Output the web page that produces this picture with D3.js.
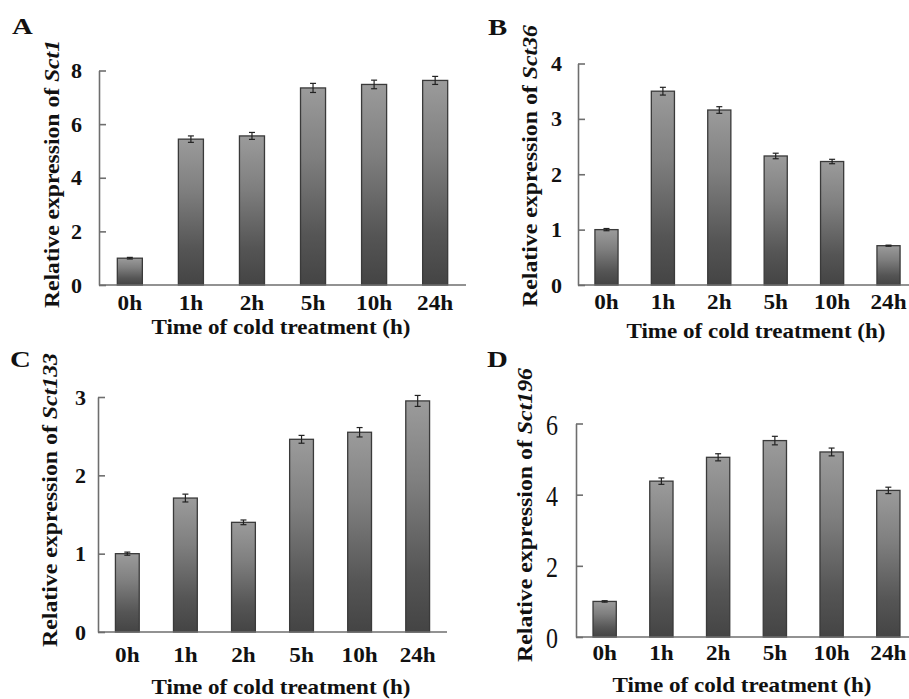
<!DOCTYPE html>
<html>
<head>
<meta charset="utf-8">
<script src="https://cdn.jsdelivr.net/npm/d3@7"></script>
<style>
  html, body { margin: 0; padding: 0; background: #fff; }
  svg { display: block; }
  text { font-family: "Liberation Serif", "Times New Roman", serif; font-weight: bold; fill: #111; }
</style>
</head>
<body>
<svg id="chart" width="909" height="699"></svg>
<script>
// ---------- data ----------
const categories = ["0h", "1h", "2h", "5h", "10h", "24h"];

const sct1Values = [1.00, 5.44, 5.56, 7.35, 7.48, 7.63];
const sct1Errors = [0.03, 0.12, 0.13, 0.17, 0.16, 0.15];

const sct36Values = [1.00, 3.50, 3.16, 2.33, 2.23, 0.71];
const sct36Errors = [0.02, 0.07, 0.06, 0.05, 0.04, 0.01];

const sct133Values = [1.00, 1.71, 1.40, 2.46, 2.55, 2.95];
const sct133Errors = [0.02, 0.05, 0.03, 0.05, 0.06, 0.07];

const sct196Values = [1.00, 4.38, 5.05, 5.52, 5.20, 4.12];
const sct196Errors = [0.02, 0.09, 0.10, 0.12, 0.11, 0.09];

const ticksA = [0, 2, 4, 6, 8];
const ticksB = [0, 1, 2, 3, 4];
const ticksC = [0, 1, 2, 3];
const ticksD = [0, 2, 4, 6];

const panelLetters = ["A", "B", "C", "D"];
const geneNames = ["Sct1", "Sct36", "Sct133", "Sct196"];
const xTitle = "Time of cold treatment (h)";
const yTitlePrefix = "Relative expression of ";

// ---------- drawing ----------
const svg = d3.select("#chart");
const defs = svg.append("defs");
const grad = defs.append("linearGradient")
  .attr("id", "barGrad").attr("x1", 0).attr("y1", 0).attr("x2", 0).attr("y2", 1);
grad.append("stop").attr("offset", "0%").attr("stop-color", "#9b9b9b");
grad.append("stop").attr("offset", "35%").attr("stop-color", "#7f7f7f");
grad.append("stop").attr("offset", "75%").attr("stop-color", "#555555");
grad.append("stop").attr("offset", "100%").attr("stop-color", "#444444");

const panels = [
  { letter: panelLetters[0], gene: geneNames[0], values: sct1Values, errors: sct1Errors, ticks: ticksA,
    x0: 99, x1: 466, yBottom: 285, yTop: 70.5, letterPos: [12, 34],
    tickPad: 17, xPad: 11, yTitleX: 52, yTitleY: 174, yTitleLen: 268,
    xTitleX: 281, xTitleY: 334, condensed: false },
  { letter: panelLetters[1], gene: geneNames[1], values: sct36Values, errors: sct36Errors, ticks: ticksB,
    x0: 578, x1: 917, yBottom: 285, yTop: 63.5, letterPos: [488, 35],
    tickPad: 16, xPad: 10, yTitleX: 530, yTitleY: 166, yTitleLen: 282,
    xTitleX: 756, xTitleY: 338, condensed: false },
  { letter: panelLetters[2], gene: geneNames[2], values: sct133Values, errors: sct133Errors, ticks: ticksC,
    x0: 98, x1: 447, yBottom: 632, yTop: 397, letterPos: [10, 367],
    tickPad: 12, xPad: 16, yTitleX: 50, yTitleY: 500, yTitleLen: 294,
    xTitleX: 281, xTitleY: 694, condensed: false },
  { letter: panelLetters[3], gene: geneNames[3], values: sct196Values, errors: sct196Errors, ticks: ticksD,
    x0: 576, x1: 917, yBottom: 637, yTop: 423.5, letterPos: [487, 367],
    tickPad: 18, xPad: 9, yTitleX: 525, yTitleY: 515, yTitleLen: 294,
    xTitleX: 742, xTitleY: 692, condensed: true }
];

const axisColor = "#6e6e6e";
const xTitleLen = 259;

panels.forEach(p => {
  const g = svg.append("g");
  const maxTick = p.ticks[p.ticks.length - 1];

  const x = d3.scaleBand().domain(categories).range([p.x0, p.x1])
    .paddingInner(0.59).paddingOuter(0.3);
  const y = d3.scaleLinear().domain([0, maxTick]).range([p.yBottom, p.yTop]);

  // bars
  g.selectAll("rect.bar").data(p.values).join("rect")
    .attr("class", "bar")
    .attr("x", (d, i) => x(categories[i]))
    .attr("width", x.bandwidth())
    .attr("y", d => y(d))
    .attr("height", d => y(0) - y(d))
    .attr("fill", "url(#barGrad)")
    .attr("stroke", "#3a3a3a")
    .attr("stroke-width", 1.3);

  // error bars
  const eb = g.selectAll("g.err").data(p.values).join("g").attr("class", "err");
  eb.append("line")
    .attr("x1", (d, i) => x(categories[i]) + x.bandwidth() / 2)
    .attr("x2", (d, i) => x(categories[i]) + x.bandwidth() / 2)
    .attr("y1", (d, i) => y(d + p.errors[i]))
    .attr("y2", (d, i) => y(d - p.errors[i]))
    .attr("stroke", "#222").attr("stroke-width", 1.2);
  [1, -1].forEach(s => {
    eb.append("line")
      .attr("x1", (d, i) => x(categories[i]) + x.bandwidth() / 2 - 3)
      .attr("x2", (d, i) => x(categories[i]) + x.bandwidth() / 2 + 3)
      .attr("y1", (d, i) => y(d + s * p.errors[i]))
      .attr("y2", (d, i) => y(d + s * p.errors[i]))
      .attr("stroke", "#222").attr("stroke-width", 1.2);
  });

  // y axis
  const yAxis = g.append("g").attr("transform", `translate(${p.x0},0)`)
    .call(d3.axisLeft(y).tickValues(p.ticks).tickFormat(d3.format("d"))
      .tickSizeInner(-7).tickSizeOuter(0).tickPadding(p.tickPad));
  yAxis.select(".domain").attr("stroke", axisColor).attr("stroke-width", 1.6);
  yAxis.selectAll(".tick line").attr("stroke", axisColor).attr("stroke-width", 1.6);
  yAxis.selectAll("text")
    .style("font-family", '"Liberation Serif", "Times New Roman", serif')
    .style("font-weight", "bold").style("font-size", "22px").attr("fill", "#111");
  if (p.condensed) {
    yAxis.selectAll("text")
      .style("font-weight", "normal").style("font-size", "30px")
      .attr("transform", function () {
        const xx = +d3.select(this).attr("x");
        return `translate(${xx},0) scale(0.8,1)`;
      })
      .attr("x", 0)
      .attr("dy", "0.36em");
  }

  // x axis
  const xAxis = g.append("g").attr("transform", `translate(0,${p.yBottom})`)
    .call(d3.axisBottom(x).tickSize(0).tickPadding(p.xPad));
  xAxis.select(".domain").attr("stroke", axisColor).attr("stroke-width", 1.6)
    .attr("d", `M${p.x0},0H${p.x1}`);
  xAxis.selectAll("text")
    .style("font-family", '"Liberation Serif", "Times New Roman", serif')
    .style("font-weight", "bold").style("font-size", "20px").attr("fill", "#111")
    .attr("transform", "scale(1.16,1)");

  // x title
  g.append("text")
    .attr("x", p.xTitleX).attr("y", p.xTitleY)
    .attr("text-anchor", "middle")
    .attr("textLength", xTitleLen)
    .attr("lengthAdjust", "spacingAndGlyphs")
    .style("font-size", "21px")
    .text(xTitle);

  // y title
  const yt = g.append("text")
    .attr("transform", `translate(${p.yTitleX},${p.yTitleY}) rotate(-90)`)
    .attr("text-anchor", "middle")
    .attr("dy", "0.35em")
    .attr("textLength", p.yTitleLen)
    .attr("lengthAdjust", "spacingAndGlyphs")
    .style("font-size", "21px");
  yt.append("tspan").text(yTitlePrefix);
  yt.append("tspan").style("font-style", "italic").text(p.gene);

  // panel letter
  g.append("text")
    .attr("transform", `translate(${p.letterPos[0]},${p.letterPos[1]}) scale(1.2,1)`)
    .style("font-size", "24px")
    .text(p.letter);
});
</script>
</body>
</html>
